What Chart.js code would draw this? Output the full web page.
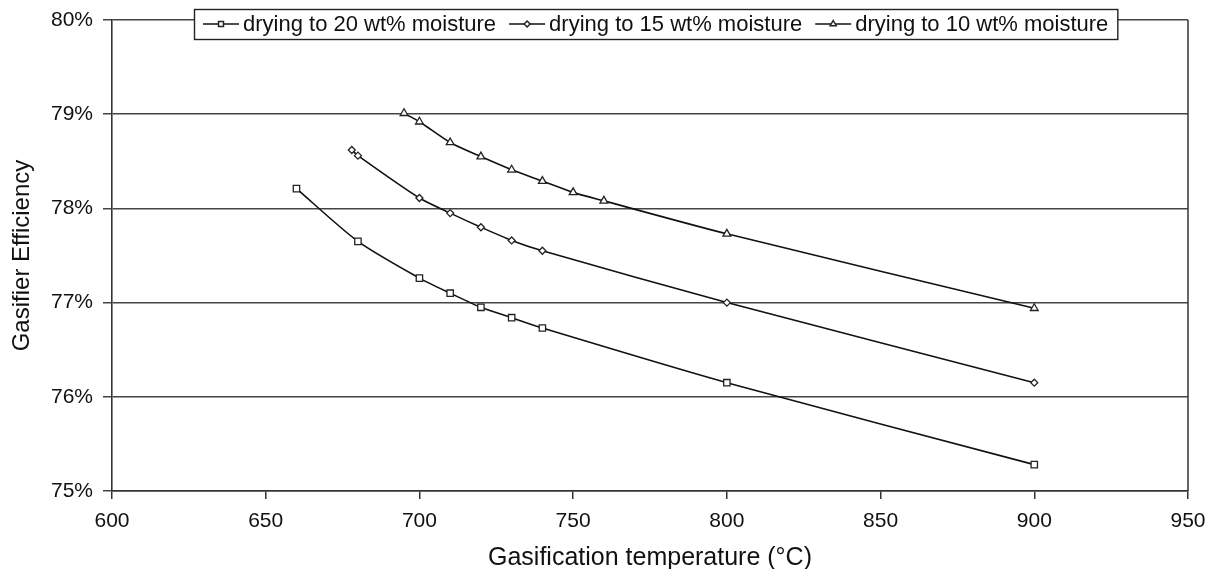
<!DOCTYPE html>
<html>
<head>
<meta charset="utf-8">
<script src="https://cdn.jsdelivr.net/npm/chart.js@4.4.1/dist/chart.umd.min.js"></script>
<style>
  html, body { margin: 0; padding: 0; background: #fff; }
  #wrap { width: 1213px; height: 569px; position: relative; }
</style>
</head>
<body>
<div id="wrap"><canvas id="chart" width="1213" height="569"></canvas></div>
<script>
// series labels
const seriesLabels = [
    "drying to 20 wt% moisture",
    "drying to 15 wt% moisture",
    "drying to 10 wt% moisture"
];
// temperatures (°C) for each series
const temp20 = [660, 680, 700, 710, 720, 730, 740, 800, 900];
const temp15 = [678, 680, 700, 710, 720, 730, 740, 800, 900];
const temp10 = [695, 700, 710, 720, 730, 740, 750, 760, 800, 900];
// gasifier efficiency (%)
const eff20 = [78.21, 77.65, 77.26, 77.10, 76.95, 76.84, 76.73, 76.15, 75.28];
const eff15 = [78.62, 78.56, 78.11, 77.95, 77.80, 77.66, 77.55, 77.00, 76.15];
const eff10 = [79.01, 78.92, 78.70, 78.55, 78.41, 78.29, 78.17, 78.08, 77.73, 76.94];
// axis ticks
const xTicks = [600, 650, 700, 750, 800, 850, 900, 950];
const yTicks = [75, 76, 77, 78, 79, 80];
const markerStyles = ["rect", "rectRot", "triangle"];

const FONT = "'Liberation Sans', Arial, sans-serif";

function toPoints(xs, ys) {
    return xs.map((x, i) => ({ x: x, y: ys[i] }));
}

const seriesData = [toPoints(temp20, eff20), toPoints(temp15, eff15), toPoints(temp10, eff10)];

const datasets = seriesData.map((d, i) => ({
    label: seriesLabels[i],
    data: d,
    borderColor: "#111",
    borderWidth: 1.6,
    backgroundColor: "#fff",
    pointStyle: markerStyles[i],
    pointRadius: i == 1 ? 3.5 : 4.5,
    pointBorderColor: "#222",
    pointBorderWidth: 1.3,
    pointBackgroundColor: "#fff",
    tension: 0.25
}));

// right frame edge + legend box that sits over the top of the plot
const framePlugin = {
    id: "frame",
    afterDraw(chart) {
        const ctx = chart.ctx;
        const a = chart.chartArea;
        ctx.save();
        ctx.strokeStyle = "#333";
        ctx.lineWidth = 1.5;
        ctx.beginPath();
        ctx.moveTo(a.right, a.top);
        ctx.lineTo(a.right, a.bottom);
        ctx.stroke();

        // legend
        ctx.font = "22px " + FONT;
        const lineLen = 36, gap = 4, itemGap = 13, padX = 9;
        const widths = seriesLabels.map(t => ctx.measureText(t).width);
        let total = padX * 2;
        widths.forEach((w, i) => { total += lineLen + gap + w + (i < widths.length - 1 ? itemGap : 0); });
        const cx = 656;
        const bx = Math.round(cx - total / 2), by = 9, bh = 30;
        ctx.fillStyle = "#fff";
        ctx.fillRect(bx, by, total, bh);
        ctx.strokeStyle = "#222";
        ctx.lineWidth = 1.4;
        ctx.strokeRect(bx + 0.5, by + 0.5, total, bh);
        let x = bx + padX;
        const my = by + bh / 2;
        seriesLabels.forEach((t, i) => {
            ctx.strokeStyle = "#111";
            ctx.lineWidth = 1.5;
            ctx.beginPath();
            ctx.moveTo(x, my);
            ctx.lineTo(x + lineLen, my);
            ctx.stroke();
            ctx.fillStyle = "#fff";
            ctx.strokeStyle = "#222";
            Chart.helpers.drawPoint(ctx, {
                pointStyle: markerStyles[i],
                radius: i == 1 ? 3 : 3.5,
                borderWidth: 1.2
            }, x + lineLen / 2, my);
            ctx.fillStyle = "#111";
            ctx.textBaseline = "middle";
            ctx.textAlign = "left";
            ctx.fillText(t, x + lineLen + gap, my + 1);
            x += lineLen + gap + widths[i] + itemGap;
        });
        ctx.restore();
    }
};

const ctx = document.getElementById("chart").getContext("2d");
new Chart(ctx, {
    type: "line",
    data: { datasets: datasets },
    options: {
        responsive: false,
        animation: false,
        devicePixelRatio: 1,
        layout: { padding: { top: 20, right: 25, left: 0, bottom: 0 } },
        plugins: {
            legend: { display: false },
            tooltip: { enabled: false }
        },
        scales: {
            x: {
                type: "linear",
                min: 600,
                max: 950,
                afterBuildTicks: (axis) => { axis.ticks = xTicks.map(v => ({ value: v })); },
                afterFit: (axis) => {
                    axis.height = 78;
                    axis.paddingLeft = 0;
                    axis.paddingRight = 0;
                },
                grid: {
                    display: true,
                    drawOnChartArea: false,
                    drawTicks: true,
                    tickLength: 8,
                    color: "#333",
                    lineWidth: 1.5
                },
                border: { display: true, color: "#333", width: 1.6 },
                ticks: {
                    color: "#111",
                    padding: 10,
                    maxRotation: 0,
                    font: { family: FONT, size: 21 }
                },
                title: {
                    display: true,
                    text: "Gasification temperature (°C)",
                    color: "#111",
                    padding: { top: 0, bottom: -4 },
                    font: { family: FONT, size: 25 }
                }
            },
            y: {
                type: "linear",
                min: 75,
                max: 80,
                afterBuildTicks: (axis) => { axis.ticks = yTicks.map(v => ({ value: v })); },
                afterFit: (axis) => {
                    axis.width = 112;
                    axis.paddingTop = 0;
                    axis.paddingBottom = 0;
                },
                grid: {
                    display: true,
                    drawTicks: true,
                    tickLength: 9,
                    color: "#444",
                    lineWidth: 1.5
                },
                border: { display: true, color: "#333", width: 1.6 },
                ticks: {
                    color: "#111",
                    padding: 10,
                    font: { family: FONT, size: 21 },
                    callback: (v) => v + "%"
                },
                title: {
                    display: true,
                    text: "Gasifier Efficiency",
                    color: "#111",
                    padding: { top: 8, bottom: 0 },
                    font: { family: FONT, size: 24 }
                }
            }
        }
    },
    plugins: [framePlugin]
});
</script>
</body>
</html>
